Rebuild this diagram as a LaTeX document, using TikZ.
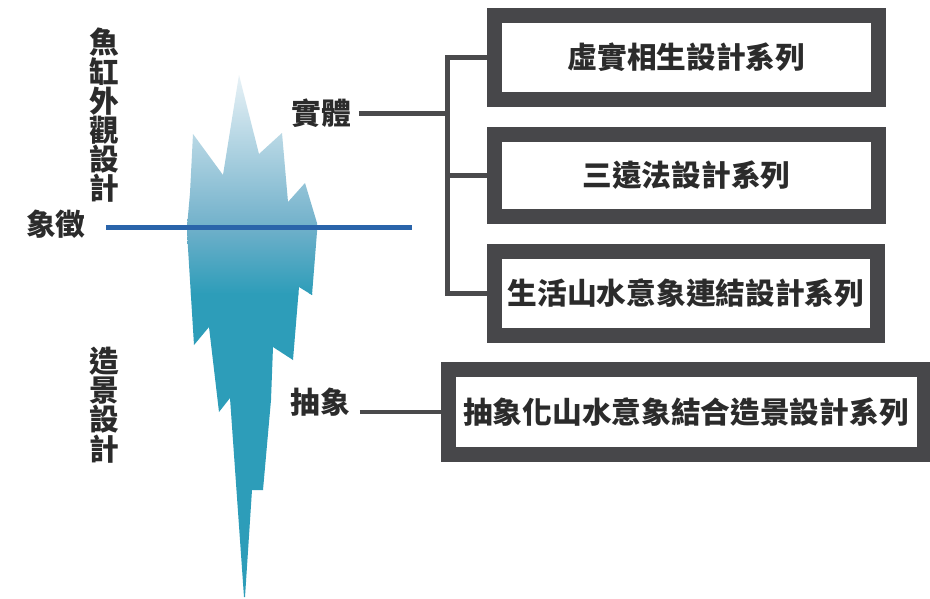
\documentclass[tikz,border=0pt]{standalone}
\usepackage{fontspec}
\newfontfamily\cjk{Noto Sans CJK TC}
\definecolor{boxgrey}{HTML}{47474A}
\definecolor{linegrey}{HTML}{4A4A4C}
\definecolor{inkgrey}{HTML}{2B2B2B}
\definecolor{waterblue}{HTML}{2A64AA}
\definecolor{icetop}{RGB}{236,244,248}
\definecolor{icemid}{RGB}{112,176,202}
\definecolor{icedeep}{RGB}{45,157,185}
\begin{document}
\begin{tikzpicture}[x=1pt,y=-1pt,
  txt/.style={font=\cjk\bfseries\fontsize{29.7}{29.2}\selectfont, text=inkgrey, inner sep=0pt},
  seriesbox/.style={txt, draw=boxgrey, line width=15pt, fill=white},
  conn/.style={draw=linegrey, line width=4.5pt},
  waterline/.style={draw=waterblue, line width=5pt}]
\useasboundingbox (0,0) rectangle (930,598);
\fill[white] (0,0) rectangle (930,598);

% iceberg silhouette with depth gradient
\begin{scope}
  \clip (239,75) -- (259,154) -- (282,133) -- (288,202) -- (305,183)
    -- (317,223) -- (317,232) -- (312,295) -- (299,287) -- (293,360)
    -- (273,347) -- (271,400) -- (263,490) -- (252,490) -- (245,597)
    -- (244,597) -- (230,398) -- (219,412) -- (209,327) -- (194,345)
    -- (187,232) -- (187,227) -- (190,193) -- (193,134) -- (223,175) -- cycle;
  \shade[top color=icetop, bottom color=icemid] (150,70) rectangle (340,228);
  \shade[top color=icemid, bottom color=icedeep] (150,227) rectangle (340,294);
  \fill[icedeep] (150,293) rectangle (340,600);
\end{scope}

% water surface
\draw[waterline] (106,227) -- (412,227);

% side labels
\node[txt, align=center] (appearance) at (104,115.5) {魚\\缸\\外\\觀\\設\\計};
\node[txt, align=center] (landscape) at (104,405) {造\\景\\設\\計};
\node[txt] (symbol) at (56,224) {象徵};
\node[txt] (solid) at (321,113.5) {實體};
\node[txt] (abstract) at (320,402.5) {抽象};

% series boxes
\node[seriesbox, minimum width=384pt, minimum height=84pt] (box1) at (686.5,57.5) {虛實相生設計系列};
\node[seriesbox, minimum width=384pt, minimum height=82pt] (box2) at (686.5,175.5) {三遠法設計系列};
\node[seriesbox, minimum width=383pt, minimum height=84pt] (box3) at (686,293.5) {生活山水意象連結設計系列};
\node[seriesbox, minimum width=476pt, minimum height=85.5pt] (box4) at (686,411.75) {抽象化山水意象結合造景設計系列};

% connectors: one trunk feeding the three concrete series
\coordinate (trunk) at (447.5,0);
\draw[conn] (box1.west) -| (trunk |- box3.west) -- (box3.west);
\draw[conn] (trunk |- box2.west) -- (box2.west);
\draw[conn] ([xshift=8pt]solid.east) -- (trunk |- solid.east);
\draw[conn] ([xshift=10pt]abstract.east |- box4.west) -- (box4.west);
\end{tikzpicture}
\end{document}
